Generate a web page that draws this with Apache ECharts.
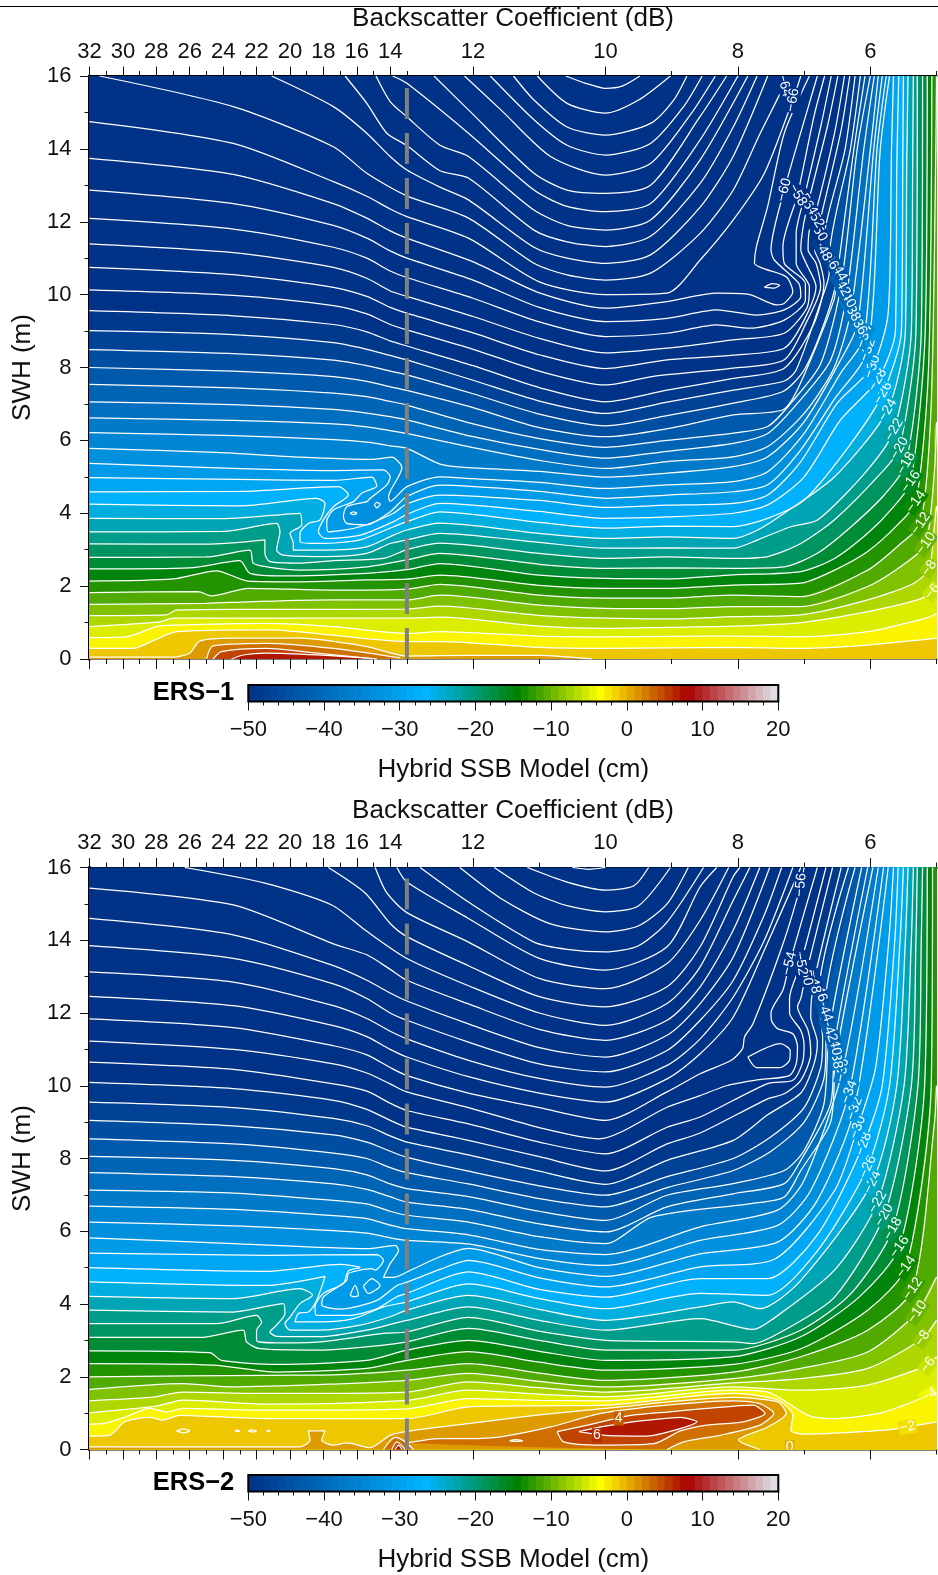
<!DOCTYPE html>
<html><head><meta charset="utf-8">
<style>html,body{margin:0;padding:0;background:#fff}#c{width:938px;height:1575px}</style>
<script src="https://cdn.jsdelivr.net/npm/echarts@6/dist/echarts.min.js"></script>
</head><body><div id="c"></div>
<script>
// ---- axis ticks (dB / m / cm)
const dbMajor=[32,30,28,26,24,22,20,18,16,14,12,10,8,6];
const dbMinor=[31,29,27,25,23,21,19,17,15,13,11,9,7,5];
const breakDb=13;
// ---- colour table
const cptValues=[-50,-26.5,-14.5,-3.5,8,20];
const cptColors=[[0,50,135],[0,180,255],[0,130,0],[255,255,0],[170,0,0],[226,232,238]];

// ---- ERS-1 contours: level, then sigma0(dB),SWH(m) pairs
const ers1Levels=[-86,-84,-82,-80,-78,-76,-74,-72,-70,-68,-66,-64,-62,-60,-58,-56,-54,-52,-50,-48,-46,-44,-42,-40,-38,-36,-34,-32,-30,-28,-26,-24,-22,-20,-18,-16,-14,-12,-10,-8,-6,-4,-2,0,2,4,6];
const ers1Paths=[
[10.6,16,10.3,15.8,10,15.66,9.75,15.72,9.48,16],
[11.03,16,10.58,15.25,10,14.98,9.5,15.34,9.02,16],
[11.39,16,11.08,15.34,10.58,14.6,10,14.38,9.32,14.7,8.97,15.34,8.77,16],
[11.74,16,11.08,14.8,10.58,14.1,10,13.83,9.32,14.15,8.82,15.16,8.54,16],
[12.13,16,11.58,15.07,10.83,13.79,10,13.28,9.32,13.6,8.72,14.93,8.34,16],
[12.59,16,12.07,15.07,11.08,13.33,10.58,12.87,10,12.78,9.32,13,8.57,14.89,8.17,16],
[13.85,16,13,15.8,12.07,14.43,11.08,12.87,10.58,12.42,10,12.28,9.32,12.5,8.57,14.25,8,16],
[14.85,16,14,15.3,13,14.88,12.5,14.1,12.07,13.79,11.08,12.32,10.58,11.9,10,11.77,9.32,12.05,8.57,13.7,7.85,16],
[16.7,16,15.4,15.25,14.2,14.43,13,14.09,12.5,13.4,12.07,13.2,11.08,11.77,10.58,11.45,10,11.32,9.32,11.6,8.57,13.05,8.07,14.6,7.71,16],
[21.1,16,17.4,15.16,15.4,14.43,14,13.79,13,13.42,12.5,12.95,12.07,12.6,11.08,11.3,10.58,11,10,10.86,9.32,11.09,8.57,12.4,8.07,13.8,7.55,16],
[31.4,16,23.4,15.16,17.4,14.06,15.4,13.33,13,12.71,12.07,12.1,11.08,10.86,10.58,10.54,10,10.4,9.32,10.59,8.57,11.68,8.07,12.87,7.67,14.4,7.3,15.75,7.25,16],
[32,14.75,23.4,14.15,17.4,13.1,15.4,12.7,14,12.35,13,12.14,12.07,11.55,11,10.35,10,10,9.07,10.04,8.57,10.95,8.07,12.05,7.6,13.33,7.17,15.34,7.05,16],
[32,13.74,23.4,13.3,17.4,12.5,15.4,12.1,14,11.75,13,11.55,12,10.9,11,10.05,10,9.63,9.07,9.81,8.32,10.04,7.82,10,7.42,9.72,7.3,9.76,7.17,10.08,7.27,10.49,7.62,10.72,7.75,10.86,7.72,11.32,7.55,12.42,7.3,14.43,6.92,16],
[32,12.87,23.4,12.5,17.4,11.9,15.4,11.55,14,11.2,13,11,12,10.4,11,9.65,10,9.26,9.07,9.35,8.32,9.58,7.72,9.44,7.3,9.58,7.05,9.95,7.08,10.31,7.45,10.95,7.5,11.23,7.3,12.87,6.95,15.07,6.8,16],
[32,12.09,23.4,11.8,17.4,11.3,15.4,11,14,10.65,13,10.47,12,9.9,11,9.25,10,8.85,9.07,8.94,8.32,9.17,7.82,9.08,7.3,9.3,6.98,9.85,6.98,10.31,7.3,10.86,7.32,11.32,7.1,12.74,6.85,14.9,6.69,16],
[32,11.39,23.4,11.15,17.4,10.75,15.4,10.45,14,10.1,13,9.95,12,9.4,11,8.8,10,8.4,9.07,8.53,8.07,8.76,7.3,8.94,6.95,9.67,6.92,10.22,7.12,10.86,7.12,11.68,7,12.65,6.75,14.6,6.59,16],
[32,10.75,23.4,10.55,17.4,10.2,15.4,9.95,14,9.65,13,9.49,12,8.95,11,8.35,10,7.97,9.07,8.21,8.07,8.34,7.3,8.53,7,9.3,6.82,10.22,6.97,10.86,7.05,11.23,7.02,11.8,6.94,12.5,6.65,14.6,6.49,16],
[32,10.13,23.4,9.98,17.4,9.7,15.4,9.47,14,9.18,13,9.03,12,8.5,11,7.9,10,7.52,9.3,7.75,8.07,7.98,7.3,8.21,6.95,9.3,6.75,10.22,6.82,10.86,6.94,11.23,6.92,11.77,6.84,12.14,6.54,14.43,6.39,16],
[32,9.56,23.4,9.42,17.4,9.18,15.4,8.98,14,8.73,13,8.59,12,8.05,11,7.45,10,7.06,9.07,7.38,8.07,7.7,7.3,7.98,6.85,9.21,6.7,10.31,6.76,10.86,6.84,11.23,6.79,11.77,6.45,14.43,6.31,16],
[32,9.01,23.4,8.9,17.4,8.68,15.4,8.5,14,8.33,13,8.21,12,7.65,11,7.08,10,6.74,9.07,7.05,8.07,7.38,7.3,7.63,7.12,7.93,6.74,9.85,6.62,10.6,6.72,11.23,6.38,14,6.23,16],
[32,8.49,23.4,8.38,17.4,8.2,15.4,8.05,14,7.9,13,7.8,12,7.28,11,6.72,10,6.4,9.07,6.68,8.07,7.02,7.32,7.34,7,7.93,6.7,9.2,6.52,10.4,6.62,11,6.3,14,6.15,16],
[32,8,23.4,7.9,17.4,7.75,15.4,7.62,14,7.47,13,7.37,12,6.9,11,6.35,10,6.1,9.07,6.32,8.07,6.7,7.32,6.84,7.08,7.47,6.55,9.85,6.49,10.68,6.25,13.97,6.08,16],
[32,7.54,23.4,7.44,17.4,7.3,15.4,7.2,14,7.07,13,6.97,12,6.45,11,6.05,10,5.81,9.07,6,8.07,6.2,7.55,6.38,7.2,7.02,6.75,8.1,6.44,10.27,6.2,13.97,6,16],
[32,7.06,23.4,6.98,17.4,6.85,15.4,6.75,14,6.65,13,6.56,12,6.1,11,5.75,10,5.51,9.07,5.7,8.07,5.92,7.55,6.19,7.1,7.02,6.6,8.2,6.36,9.95,6.1,13.97,5.94,16],
[32,6.62,23.4,6.55,17.4,6.45,15.4,6.37,14,6.27,13,6.19,12,5.8,11,5.45,10,5.23,9.07,5.42,8.07,5.55,7.55,5.83,7,6.74,6.55,7.98,6.29,9.58,6,13.97,5.88,16],
[32,6.21,23.4,6.13,17.4,6.02,15.4,5.95,14,5.85,13,5.78,12.5,5.35,12.07,5.25,11,5.15,10,4.99,9.07,5.1,8.07,5.28,7.55,5.55,7,6.51,6.45,8.2,6.19,9.21,5.95,13.97,5.82,16],
[32,5.78,24.4,5.67,19.4,5.54,15,5.48,13.9,5.54,13.3,5.25,14,4.6,14.1,4.45,14,4.33,13,4.73,12.5,5,12,4.95,11,4.85,10,4.68,9.07,4.78,8.07,4.87,7.55,5.14,7,6.19,6.45,7.84,6.09,8.85,5.9,13.97,5.76,16],
[32,5.37,23.4,5.23,17.4,5.17,14.4,5.19,14,5,14.2,4.78,15.2,4.41,15.4,4.32,16.6,4.18,16.8,3.91,16.6,3.72,15.4,3.68,14,4.04,13,4.46,12.5,4.77,11,4.6,10,4.41,9.07,4.5,8.07,4.59,7.55,4.78,7.05,5.74,6.55,7.11,6.04,8.48,5.85,13.97,5.71,16],
[32,4.98,23,4.93,17.4,4.9,15.1,4.99,14.8,4.75,15.7,4.55,16.2,4.32,17.4,4.09,17.8,3.77,17.7,3.49,15.8,3.63,13.8,4,13,4.26,12.5,4.5,11,4.35,10,4.16,9.07,4.22,8.07,4.27,7.55,4.5,7.05,5.42,6.5,7.02,5.97,8.02,5.73,9.5,5.68,13.97,5.65,16],
[32,4.59,23,4.6,17.1,4.73,16.5,4.5,17.4,4.18,18,3.82,18.3,3.49,17.9,3.31,15.8,3.4,13.8,3.77,13,3.97,12.5,4.27,11,4.05,10,3.86,9.07,3.9,8.07,4,7.55,4.23,7,5,6.45,6.56,5.89,7.66,5.62,9,5.6,13.5,5.57,16],
[32,4.25,23,4.2,18.4,4.41,17.9,4.27,18.2,3.82,18.9,3.72,19.4,3.45,19.4,3.22,18.2,3.17,15.8,3.27,13.8,3.63,13,3.77,12.5,4.04,11,3.75,10,3.59,9.07,3.65,8.07,3.63,7.55,3.86,7,4.36,6.29,5.92,5.81,7.29,5.53,9,5.51,13.5,5.5,16],
[32,3.86,24,3.85,19.4,4,19.3,3.68,20,3.45,19.8,3.17,19.8,2.99,18,2.99,15.4,3.08,13.8,3.4,13,3.54,12.5,3.73,11,3.45,10,3.31,9.07,3.35,8.07,3.31,7.7,3.54,7.3,4,6.54,5,5.74,6.83,5.47,9,5.45,13.5,5.43,16],
[32,3.49,24,3.5,20.8,3.72,20.6,3.49,20.8,2.99,20.4,2.85,18,2.81,15.4,2.9,14,3.17,13,3.27,12.5,3.45,11,3.2,10,3.04,9.07,3.05,8.07,3.04,7.7,3.27,7.2,3.63,6.79,3.82,6.04,5.19,5.64,6.29,5.38,9,5.36,13.5,5.35,16],
[32,3.16,25,3.15,21.5,3.27,21.5,2.9,21.2,2.67,19.4,2.63,17.4,2.7,14.4,2.76,13,3,12.5,3.18,11,2.9,10,2.76,9.07,2.8,8.07,2.76,7.55,2.81,7.05,3.17,6.54,3.82,5.84,5.1,5.56,5.78,5.31,9,5.29,16],
[32,2.79,25,2.8,22.4,2.99,22.2,2.63,21.4,2.53,19.4,2.44,15.4,2.53,13,2.72,12.5,2.9,11,2.6,10,2.49,9.07,2.5,8.07,2.49,7.3,2.53,6.8,2.9,6.29,3.63,5.79,4.5,5.46,5.37,5.23,9,5.21,16],
[32,2.47,26,2.5,23,2.7,22.4,2.35,20.4,2.28,15.4,2.35,13,2.45,12.5,2.62,11,2.3,10,2.21,9.07,2.2,8.07,2.31,7.05,2.4,6.54,2.76,6.04,3.45,5.69,4.09,5.39,4.87,5.17,9,5.14,16],
[32,2.14,27,2.2,24.4,2.42,22.5,2.14,19.4,2.12,15.4,2.17,13,2.19,12.5,2.3,11,2.02,10,1.94,9.07,1.94,8.07,2.03,7.05,2.08,6.54,2.44,6.04,2.95,5.59,3.68,5.31,4.32,5.12,8,5.07,16],
[32,1.82,25.5,1.85,24.7,1.73,22.5,1.94,17.4,1.89,13,1.92,12.5,2.05,11,1.75,10,1.67,9.07,1.67,8.07,1.75,7.05,1.71,6.04,2.44,5.54,3.17,5.24,3.72,5.08,7,5.01,14,5,16],
[32,1.5,25,1.53,22.5,1.57,17.4,1.62,13,1.62,12.5,1.75,11,1.48,10,1.39,9.07,1.38,8.07,1.44,7.05,1.44,6.04,1.99,5.44,2.67,5.16,3.17,5.03,5.19,5,6.5],
[32,1.19,27.4,1.21,26.8,1.34,23,1.36,13,1.37,12.5,1.45,11,1.2,10,1.12,9.07,1.1,8.07,1.16,7.05,1.21,6.04,1.62,5.34,2.08,5.11,2.49,5.04,3.5,5,4.2],
[32,.89,27.8,1.02,27,1.12,17.4,1.12,13,1.12,12.5,1.15,11,.9,10,.84,9.07,.87,8.07,.9,7.05,1,6.04,1.3,5.29,1.62,5.06,1.85,5,2.08],
[32,.59,29.8,.61,28,.89,27,.93,21.4,.98,17.4,.89,13,.7,12.5,.75,11,.63,10,.61,9.07,.62,8.07,.63,7.05,.61,6.04,.75,5.16,1.12,5,1.25],
[32,.29,29.4,.29,28,.54,26.8,.75,21.4,.8,13,.48,12.5,.48,11,.32,10,.29,8.07,.32,7.05,.29,6.04,.38,5.16,.54,5,.57],
[32,.05,27,.05,26,.16,25.4,.49,23.4,.57,19.4,.57,15.4,.34,13,.08,12,.1,11,.1,10.2,0],
[25,0,24.6,.36,21.4,.43,17.4,.29,13.4,.03],
[24.6,0,24.1,.2,21.4,.29,18.4,.16,14.8,0],
[23.5,0,22.8,.11,21.4,.16,18.4,.11,14.8,0]
];
const ers1Loops=[
[14.95,4.23,14.8,4.3,14.6,4.25,14.8,4.15,14.95,4.23],
[16.4,4,16.2,4.04,16,4,16.2,3.96,16.4,4],
[7.6,10.2,7.48,10.3,7.37,10.26,7.45,10.18,7.6,10.2]
];
// level, sigma0, SWH, angle
const ers1Labels=[[-6,5.06,1.85,50],[-8,5.11,2.49,55],[-10,5.16,3.17,55],[-12,5.24,3.72,55],[-14,5.31,4.32,55],[-16,5.39,4.87,55],[-18,5.46,5.37,60],[-20,5.56,5.78,60],[-22,5.64,6.29,60],[-24,5.74,6.83,60],[-26,5.81,7.3,60],[-28,5.89,7.66,60],[-30,5.97,8.02,70],[-32,6.04,8.48,70],[-34,6.09,8.85,70],[-36,6.19,9.21,-60],[-38,6.29,9.58,-60],[-40,6.36,9.95,-60],[-42,6.44,10.27,-60],[-44,6.49,10.68,-60],[-46,6.62,11,-60],[-48,6.72,11.23,-60],[-50,6.79,11.77,-60],[-52,6.84,12.14,-60],[-54,6.94,12.5,-60],[-56,7,12.65,-60],[-58,7.1,12.74,-60],[-60,7.3,12.87,75],[-64,7.3,15.75,-75],[-66,7.17,15.34,80]];

// ---- ERS-2 contours
const ers2Levels=[-84,-82,-80,-78,-76,-74,-72,-70,-68,-66,-64,-62,-60,-58,-56,-54,-52,-50,-48,-46,-44,-42,-40,-38,-36,-34,-32,-30,-28,-26,-24,-22,-20,-18,-16,-14,-12,-10,-8,-6,-4,-2,0,2,2,4,4,6,6];
const ers2Paths=[
[10.5,16,10.25,15.95,10,16],
[11.18,16,10.58,15.6,10,15.38,9.57,15.5,9.35,16],
[11.68,16,11.08,15.3,10.58,14.95,10,14.78,9.5,14.95,9.02,16],
[12.2,16,11.58,15.15,10.83,14.45,10,14.23,9.5,14.4,9.07,15,8.75,16],
[12.8,16,12.07,15.05,11.08,13.95,10.58,13.75,10,13.68,9.5,13.85,9.07,14.5,8.52,16],
[13.6,16,13,15.6,12.07,14.6,11,13.5,10,13.18,9.07,13.82,8.57,15.47,8.32,16],
[14.9,16,14.2,15.3,13,14.76,12.07,13.95,11,12.95,10,12.67,9.07,13.36,8.57,14.55,8.14,16],
[17.7,16,15.5,15.3,14,14.46,13,14.1,12.07,13.3,11,12.45,10,12.17,9.07,12.72,8.57,13.82,8.07,15.75,7.97,16],
[26.3,16,21.5,15.57,17.5,14.97,15.5,14.28,13,13.5,12.07,12.75,11,12,10,11.66,9.07,12.26,8.57,13.27,8.07,15.1,7.82,16],
[32,15.43,23.4,14.97,17.4,13.9,15.4,13.6,14,13.2,13,12.9,12.07,12.25,11,11.55,10,11.25,9.07,11.8,8.57,12.72,8.07,14.28,7.67,16],
[32,14.6,23.4,14.15,17.4,13.3,15.4,12.9,14,12.55,13,12.33,12.07,11.7,11,11.05,10,10.79,9.07,11.39,8.57,12.26,8.07,13.54,7.52,16],
[32,13.85,23.4,13.5,17.4,12.8,15.4,12.4,14,12,13,11.8,12.07,11.2,11,10.6,10,10.38,9.07,10.97,8.57,11.8,8.07,12.9,7.6,14.7,7.34,16],
[32,13.13,23.4,12.85,17.4,12.2,15.4,11.85,14,11.5,13,11.29,12.07,10.7,11,10.2,10,9.96,9.07,10.56,8.57,11.29,8.07,12.44,7.6,14,7.17,16],
[32,12.46,23.4,12.2,17.4,11.65,15.4,11.35,14,11,13,10.79,12.07,10.25,11,9.8,10,9.55,9.07,10.19,8.57,10.88,8.07,11.89,7.6,13.73,7.05,16],
[32,11.84,23.4,11.6,17.4,11.1,15.4,10.85,14,10.5,13,10.28,12.07,9.8,11,9.4,10,9.05,9.07,9.83,8.57,10.33,8.1,10.7,7.93,11.02,7.9,11.34,7.77,11.71,7.3,14,7.05,15.52,7,16],
[32,11.23,23.4,11,17.4,10.6,15.4,10.35,14,10.05,13,9.83,12.07,9.4,11,8.85,10.1,8.54,9.07,9.41,8.57,9.73,8.17,10,7.67,10.17,7.22,10.28,7.12,10.6,7.1,11.07,7.17,11.43,7.4,11.57,7.49,11.78,7.5,12,7.32,12.63,7.22,13.36,6.8,16],
[32,10.65,23.4,10.45,17.4,10.05,15.4,9.85,14,9.52,13,9.32,12.07,8.95,11,8.45,10,8.13,9.07,8.86,8.57,9.14,7.55,10.06,7.17,10.15,7.03,10.6,7,11.07,7.05,11.52,7.22,12,7.22,12.4,7.05,13.36,6.67,16],
[32,10.09,23.4,9.92,17.4,9.6,15.4,9.35,14,9.05,13,8.86,12.07,8.5,11,8.05,10,7.66,9.07,8.4,8.57,8.7,7.55,9.64,7.3,9.78,7.05,10.15,6.9,10.88,6.94,11.52,7.1,12.17,7.05,12.4,6.97,13.08,6.57,16],
[32,9.55,23.4,9.4,17.4,9.1,15.4,8.9,14,8.62,13,8.45,12.07,8.1,11,7.65,10,7.29,9.07,7.95,8.07,8.5,7.55,9.2,7.05,9.8,6.85,10.6,6.8,11.2,6.9,11.89,6.85,12.86,6.44,16],
[32,9.05,23.4,8.9,17.4,8.65,15.4,8.45,14,8.2,13,8.03,12.07,7.65,11,7.25,10,6.99,9.07,7.5,8.07,8,7.5,8.6,7,9.4,6.75,10.5,6.72,11.3,6.76,12,6.77,12.63,6.33,16],
[32,8.54,23.4,8.4,17.4,8.15,15.4,8,14,7.75,13,7.61,12.07,7.3,11,6.9,10,6.67,9.07,7.2,8.07,7.67,7.5,8.2,7,9,6.7,10.2,6.67,11.2,6.69,12.08,6.23,16],
[32,8.06,23.4,7.95,17.4,7.72,15.4,7.55,14,7.3,13,7.17,12.07,6.95,11,6.55,10,6.3,9.07,6.99,8.07,7.31,7.3,7.67,7,8.22,6.7,9.5,6.62,11.52,6.13,16],
[32,7.61,23.4,7.5,17.4,7.3,15.4,7.15,14,6.95,13,6.8,12.07,6.6,11,6.2,10,5.98,9.07,6.67,8.07,7.03,7.3,7.31,7.05,7.95,6.6,9.5,6.54,11.16,6.04,16],
[32,7.13,23.4,7.05,17.4,6.85,15.4,6.75,14,6.55,13,6.44,12.07,6.25,11,5.85,10,5.66,9.3,6.39,7.8,6.76,7.3,6.94,7.05,7.67,6.6,9,6.52,10.79,5.96,16],
[32,6.69,23.4,6.6,17.4,6.43,15.4,6.35,14,6.17,13,6.07,12.07,5.9,11,5.5,10,5.36,8.57,6.12,7.4,6.58,7,7.4,6.42,10.42,5.88,16],
[32,6.25,23.4,6.15,17.4,6.02,15.4,5.95,14,5.82,13,5.75,12.07,5.65,11,5.25,10,5.06,8.57,5.75,7.4,6.16,6.9,7.12,6.32,9.83,5.8,16],
[32,5.82,23.4,5.66,15.4,5.52,13.7,5.61,13.5,5.48,14,5.11,14.4,4.73,13.7,4.74,13,4.88,12.5,5.3,12.07,5.53,11,5,10,4.76,8.57,5.38,7.4,5.7,6.8,6.85,6.24,9.37,5.73,16],
[32,5.4,21.4,5.34,14.8,5.36,14.4,5.2,14.9,4.93,15.1,4.97,16.5,4.84,16.6,4.65,17.2,4.45,18,4.19,18.1,3.97,17,3.86,14.8,4.1,13.6,4.51,13,4.6,12.5,4.95,12.07,5.2,11,4.72,10,4.47,8.57,5.02,7.45,5.23,6.54,7.12,6.19,8.86,5.92,10.5,5.72,14,5.65,16],
[32,5,21.4,4.9,17,5.09,15.8,5,16.5,4.91,16.8,4.56,18,4.29,18.5,3.92,18.4,3.69,16.4,3.69,14.8,3.87,13.6,4.2,13,4.29,12.07,4.88,11,4.4,10,4.19,8.57,4.7,7.55,4.7,6.79,5.93,6.1,8.4,5.82,10,5.63,14,5.58,16],
[32,4.61,21.4,4.51,17.9,4.76,18.1,4.47,18.5,4.01,18.9,3.78,19.5,3.74,19.7,3.51,18.2,3.51,16.2,3.6,14.4,3.92,13,4.06,12.07,4.55,11,4.15,10,3.87,8.57,4.29,7.55,4.24,6.79,5.48,6.04,7.77,5.71,10,5.55,14,5.5,16],
[32,4.21,23.4,4.15,19.4,4.42,18.65,4.24,19.4,4.01,20,3.64,20.3,3.46,20,3.28,18.2,3.28,15.8,3.42,14,3.65,13,3.83,12.07,4.24,11,3.85,10,3.55,8.57,3.92,8.07,4.06,7.67,3.87,7.05,4.65,5.97,7.35,5.6,10,5.47,14,5.43,16],
[32,3.83,23.4,3.78,20.4,4.01,20.3,3.74,20.8,3.42,21.2,3.23,20.8,3.11,18.2,3.1,15.4,3.28,13.8,3.46,13,3.55,12.07,3.92,11,3.55,10,3.28,8.57,3.6,7.77,3.3,7.5,3.55,6.54,4.93,5.89,6.8,5.49,10,5.38,14,5.35,16],
[32,3.46,24.4,3.46,22,3.69,21.7,3.49,22,3.28,22,3,20.8,2.93,18.2,2.96,14.4,3.19,13,3.23,12.07,3.63,11,3.25,10,3,8.07,2.96,7.77,2.91,7.3,3.28,6.54,4.19,5.79,6.44,5.38,10,5.31,14,5.29,16],
[32,3.08,25.4,3.08,22.8,3.28,22.6,2.96,21.8,2.77,18.2,2.73,14.4,2.87,13,2.96,12.07,3.33,11,3,10,2.73,8.07,2.73,7.05,3.28,6.29,4.29,5.66,6.07,5.28,10,5.23,14,5.21,16],
[32,2.71,24.8,2.66,24.1,2.45,20.8,2.34,15.4,2.45,13,2.73,12.07,3,11,2.7,10,2.45,8.07,2.55,7.05,3.1,6.17,4.19,5.56,5.57,5.18,10,5.14,16],
[32,2.36,24.6,2.32,20.8,2.13,15.4,2.23,13,2.45,12.07,2.69,11,2.4,10,2.18,8.07,2.34,7.05,2.77,6.04,3.83,5.46,5.02,5.08,10,5.06,16],
[32,2,21.4,2.04,17.4,2.05,13,2.18,12.07,2.36,11,2.1,10,1.9,8.07,2.13,7.05,2.55,6.04,3.28,5.36,4.42,5.03,9,5,10],
[32,1.65,26.4,1.81,23.4,1.72,17.4,1.8,13,1.9,12.07,2.09,11,1.87,10,1.72,8.07,1.95,7.05,2.23,6.04,2.68,5.29,3.78,5,4.74],
[32,1.34,28.4,1.43,26.4,1.58,21.4,1.54,13,1.58,12.07,1.86,11,1.7,10,1.58,8.07,1.83,7.05,1.95,6.04,2.23,5.21,3.05,5,3.55],
[32,1.01,28,1.19,26.4,1.36,21.4,1.25,13,1.35,12.07,1.63,11,1.52,10,1.45,8.07,1.72,7.05,1.63,6.04,1.77,5.13,2.32,5,2.55],
[32,.7,31.2,.71,29.8,.9,28.4,1.13,27.4,1.03,26.4,1.13,21.4,1.08,13,1.12,12.07,1.4,11,1.35,10,1.34,8.07,1.63,7.55,1.58,6.94,.94,6.54,.85,5.79,1.03,5.11,1.49,5,1.58],
[32,.37,30.8,.39,29.9,.76,28.4,.88,27.6,.81,26.6,.94,21.4,.85,13,.85,12.07,1.17,11,1.2,10,1.22,8.07,1.54,7.4,1.36,7.17,.94,7.2,.53,7,.42,5.79,.53,5.44,.62,5,.76],
[32,.07,19.4,.07,18.8,.26,18.9,.51,17.9,.51,18.1,.26,17.4,.12,16.6,.18,15.2,.05,14,.39,13,.5,12.07,.71,11,.95,10,1.13,8.07,1.43,7.4,1.31,7.27,.99,7.55,.62,7.99,.26,7.67,0],
[14.4,0,13.7,.33,13.1,.21,12.9,0],
[13,.18,12.5,.3,12.07,.3,11.58,.35,10.83,.62,10.07,.99,9.07,1.22,8.07,1.34,7.67,1.26,7.46,.99,7.67,.67,8.27,.39,8.82,.21,9.07,0],
[13.9,0,13.6,.21,13.1,0],
[10.73,.49,10.63,.21,10.07,.12,9.27,.16,8.87,.51,8.47,.67,7.92,.76,7.59,.99,7.77,1.22,8.47,1.13,9.07,1.03,9.62,.94,9.92,.82,10.27,.67,10.73,.49],
[13.7,0,13.5,.12,13.3,0],
[10.4,.49,10,.39,9.37,.37,8.95,.53,8.62,.76,8.87,.88,9.27,.82,9.67,.74,10.07,.62,10.4,.49]
];
const ers2Loops=[
[7.85,10.79,7.36,11.16,7.21,10.97,7.22,10.7,7.36,10.5,7.72,10.5,7.85,10.79],
[16.4,4.24,16.1,4.51,15.9,4.24,16.2,4.2,16.4,4.24],
[15.6,4.49,15.1,4.7,14.6,4.51,15.3,4.29,15.6,4.49],
[26.8,.51,26.4,.57,26,.51,26.4,.46,26.8,.51],
[23.3,.51,23.15,.53,23,.51,23.15,.49,23.3,.51],
[22.5,.51,22.25,.54,22,.51,22.25,.48,22.5,.51],
[21.4,.51,21.3,.53,21.2,.51,21.3,.49,21.4,.51],
[11.45,.24,11.35,.27,11.25,.24,11.35,.22,11.45,.24]
];
const ers2Labels=[[-2,5.44,.62,10],[-4,5.11,1.49,30],[-6,5.13,2.32,55],[-8,5.21,3.05,55],[-10,5.29,3.78,55],[-12,5.36,4.42,55],[-14,5.46,5.02,55],[-16,5.56,5.57,55],[-18,5.66,6.07,60],[-20,5.79,6.44,60],[-22,5.89,6.8,60],[-24,5.97,7.35,65],[-26,6.04,7.77,65],[-28,6.1,8.4,70],[-30,6.19,8.86,70],[-32,6.24,9.37,70],[-34,6.32,9.83,70],[-36,6.42,10.42,80],[-38,6.52,10.79,-80],[-40,6.54,11.16,-80],[-42,6.62,11.52,-70],[-44,6.69,12.08,-70],[-46,6.77,12.63,-70],[-48,6.85,12.86,-80],[-50,6.97,13.08,-80],[-52,7.05,13.36,-80],[-54,7.22,13.36,75],[-56,7.05,15.52,85],[4,9.8,.85,0],[6,10.13,.39,0],[0,7.22,.07,0]];

const FONT='"Liberation Sans",Arial,sans-serif';
const scaleRight=3.963;
const uOf=s=>s>=breakDb?32-s:(32-breakDb)+(breakDb-s)*scaleRight;
const sOf=u=>u<=32-breakDb?32-u:breakDb-(u-(32-breakDb))/scaleRight;
const uMax=uOf(5);
const minus=v=>String(v).replace('-','\u2212');
function colorOf(v){
  v=Math.max(-50,Math.min(20,v));
  for(let i=0;i<cptValues.length-1;i++){
    if(v<=cptValues[i+1]){
      const t=(v-cptValues[i])/(cptValues[i+1]-cptValues[i]);
      const a=cptColors[i],b=cptColors[i+1];
      return 'rgb('+a.map((x,k)=>Math.round(x+(b[k]-x)*t)).join(',')+')';
    }
  }
  return 'rgb(226,232,238)';
}
const pairs=f=>{const o=[];for(let i=0;i<f.length;i+=2)o.push([uOf(f[i]),f[i+1]]);return o;};

const xAxes=[],yAxes=[],grids=[],series=[];
function xTick(grid,pos,vals,len,opts){
  xAxes.push(Object.assign({gridIndex:grid,type:'value',position:pos,min:0,max:uMax,
    splitLine:{show:false},
    axisLine:{show:true,onZero:false,lineStyle:{color:pos==='top'?'#000':'#808080',width:2}},
    axisTick:{show:true,length:len,customValues:vals.map(uOf),lineStyle:{color:'#111',width:1}},
    axisLabel:{show:false}},opts||{}));
}
function panel(top,height,levels,paths,loops,labels,tag,cbTop){
  const g=grids.length;
  grids.push({left:89.5,top:top,width:847,height:height,outerBoundsMode:'none',containLabel:false});
  const xi=xAxes.length,yi=yAxes.length;
  xTick(g,'top',dbMajor,9.5,{
    name:'Backscatter Coefficient (dB)',nameLocation:'middle',nameGap:44,
    nameTextStyle:{fontFamily:FONT,fontSize:26,color:'#111'},
    axisLabel:{show:true,customValues:dbMajor.map(uOf),margin:13.5,
      fontFamily:FONT,fontSize:22,color:'#111',hideOverlap:false,
      showMinLabel:true,showMaxLabel:true,formatter:v=>String(Math.round(sOf(v)))}});
  xTick(g,'top',dbMinor,5);
  xTick(g,'bottom',dbMajor,10);
  xTick(g,'bottom',dbMinor,5);
  yAxes.push({gridIndex:g,type:'value',min:0,max:16,interval:2,position:'left',
    name:'SWH (m)',nameLocation:'middle',nameGap:54,
    nameTextStyle:{fontFamily:FONT,fontSize:26,color:'#111'},
    splitLine:{show:false},
    axisLine:{show:true,lineStyle:{color:'#000',width:3}},
    axisTick:{show:true,length:9.5,lineStyle:{color:'#111',width:1}},
    minorTick:{show:true,splitNumber:2,length:5,lineStyle:{color:'#111',width:1}},
    minorSplitLine:{show:false},
    axisLabel:{margin:18,fontFamily:FONT,fontSize:22,color:'#111'}});
  yAxes.push({gridIndex:g,type:'value',min:0,max:16,position:'right',
    splitLine:{show:false},axisTick:{show:false},axisLabel:{show:false},
    axisLine:{show:true,lineStyle:{color:'#000',width:3}}});
  // filled contour bands
  series.push({type:'custom',xAxisIndex:xi,yAxisIndex:yi,clip:true,silent:true,z:1,
    data:[[-1]].concat(levels.map((l,i)=>[i])),
    renderItem:(p,api)=>{
      const i=api.value(0);
      if(i<0){
        const a=api.coord([-2,19]),b=api.coord([uMax+3,-3]);
        return {type:'rect',shape:{x:a[0],y:a[1],width:b[0]-a[0],height:b[1]-a[1]},style:{fill:colorOf(-50)}};
      }
      const lv=levels[i],f=paths[i];
      let pts=pairs(f);
      if(lv<-50)return {type:'group',children:[]};
      if(f[0]===32){
        const last=pts[pts.length-1],h=last[1];
        pts=[[-2,pts[0][1]]].concat(pts);
        if(h>=16)pts.push([last[0],19]);
        else pts.push([uMax+3,h]);
        pts.push([uMax+3,19],[uMax+3,-3],[-2,-3]);
      }
      return {type:'polygon',shape:{points:pts.map(q=>api.coord(q)),smooth:0.2},
        style:{fill:colorOf(lv+1),stroke:null}};
    }});
  // contour lines
  paths.concat(loops).forEach(f=>{
    series.push({type:'line',xAxisIndex:xi,yAxisIndex:yi,data:pairs(f),showSymbol:false,
      smooth:0.25,clip:true,silent:true,z:3,animation:false,
      lineStyle:{color:'#fff',width:1.25}});
  });
  // dashed break line
  series.push({type:'line',xAxisIndex:xi,yAxisIndex:yi,data:[[uOf(breakDb),0],[uOf(breakDb),16]],
    showSymbol:false,silent:true,z:4,lineStyle:{color:'#808080',width:4,type:[31,14]}});
  // labels
  series.push({type:'custom',xAxisIndex:xi,yAxisIndex:yi,clip:true,silent:true,z:5,
    data:labels.map((l,i)=>[i]),
    renderItem:(p,api)=>{
      const l=labels[api.value(0)],c=api.coord([uOf(l[1]),l[2]]);
      return {type:'text',x:c[0],y:c[1],rotation:l[3]*Math.PI/180,
        style:{text:minus(l[0]),fill:'#fff',font:'14px '+FONT,align:'center',verticalAlign:'middle',
          backgroundColor:colorOf(l[0]),padding:[0,1]}};
    }});
  // colour bar
  const cg=grids.length;
  grids.push({left:248.3,top:cbTop,width:530,height:16.5,outerBoundsMode:'none',containLabel:false});
  const cx=xAxes.length,cy=yAxes.length;
  xAxes.push({gridIndex:cg,type:'value',position:'bottom',min:-50,max:20,interval:10,
    name:'Hybrid SSB Model (cm)',nameLocation:'middle',nameGap:55,
    nameTextStyle:{fontFamily:FONT,fontSize:26,color:'#111'},
    splitLine:{show:false},
    axisLine:{show:true,onZero:false,lineStyle:{color:'#000',width:1}},
    axisTick:{show:true,length:9,lineStyle:{color:'#111',width:1}},
    minorTick:{show:true,splitNumber:5,length:4,lineStyle:{color:'#111',width:1}},
    axisLabel:{margin:17,fontFamily:FONT,fontSize:22,color:'#111',formatter:v=>minus(v),showMinLabel:true,showMaxLabel:true}});
  yAxes.push({gridIndex:cg,type:'value',min:0,max:1,
    name:tag,nameLocation:'middle',nameRotate:0,nameGap:14,
    nameTextStyle:{fontFamily:FONT,fontSize:25.5,fontWeight:'bold',color:'#000',align:'right',verticalAlign:'middle'},
    axisLine:{show:false},axisTick:{show:false},axisLabel:{show:false},splitLine:{show:false}});
  const cells=[];for(let v=-50;v<20;v++)cells.push([v]);
  series.push({type:'custom',xAxisIndex:cx,yAxisIndex:cy,silent:true,data:cells,
    renderItem:(p,api)=>{
      const v=api.value(0),a=api.coord([v,1]),b=api.coord([v+1,0]);
      return {type:'rect',shape:{x:a[0],y:a[1],width:b[0]-a[0]+.6,height:b[1]-a[1]},
        style:{fill:colorOf(v+.5)}};
    }});
  series.push({type:'custom',xAxisIndex:cx,yAxisIndex:cy,silent:true,z:6,data:[[0]],
    renderItem:(p,api)=>{
      const a=api.coord([-50,1]),b=api.coord([20,0]);
      return {type:'rect',shape:{x:a[0],y:a[1],width:b[0]-a[0],height:b[1]-a[1]},
        style:{fill:null,stroke:'#000',lineWidth:2}};
    }});
}
panel(76,583,ers1Levels,ers1Paths,ers1Loops,ers1Labels,'ERS\u22121',685);
panel(867.5,582,ers2Levels,ers2Paths,ers2Loops,ers2Labels,'ERS\u22122',1475);

const chart=echarts.init(document.getElementById('c'),null,{renderer:'canvas',width:938,height:1575});
chart.setOption({
  animation:false,backgroundColor:'#fff',
  grid:grids,xAxis:xAxes,yAxis:yAxes,series:series,
  graphic:[{type:'line',shape:{x1:0,y1:6.5,x2:938,y2:6.5},style:{stroke:'#000',lineWidth:1},silent:true}]
});
</script></body></html>
